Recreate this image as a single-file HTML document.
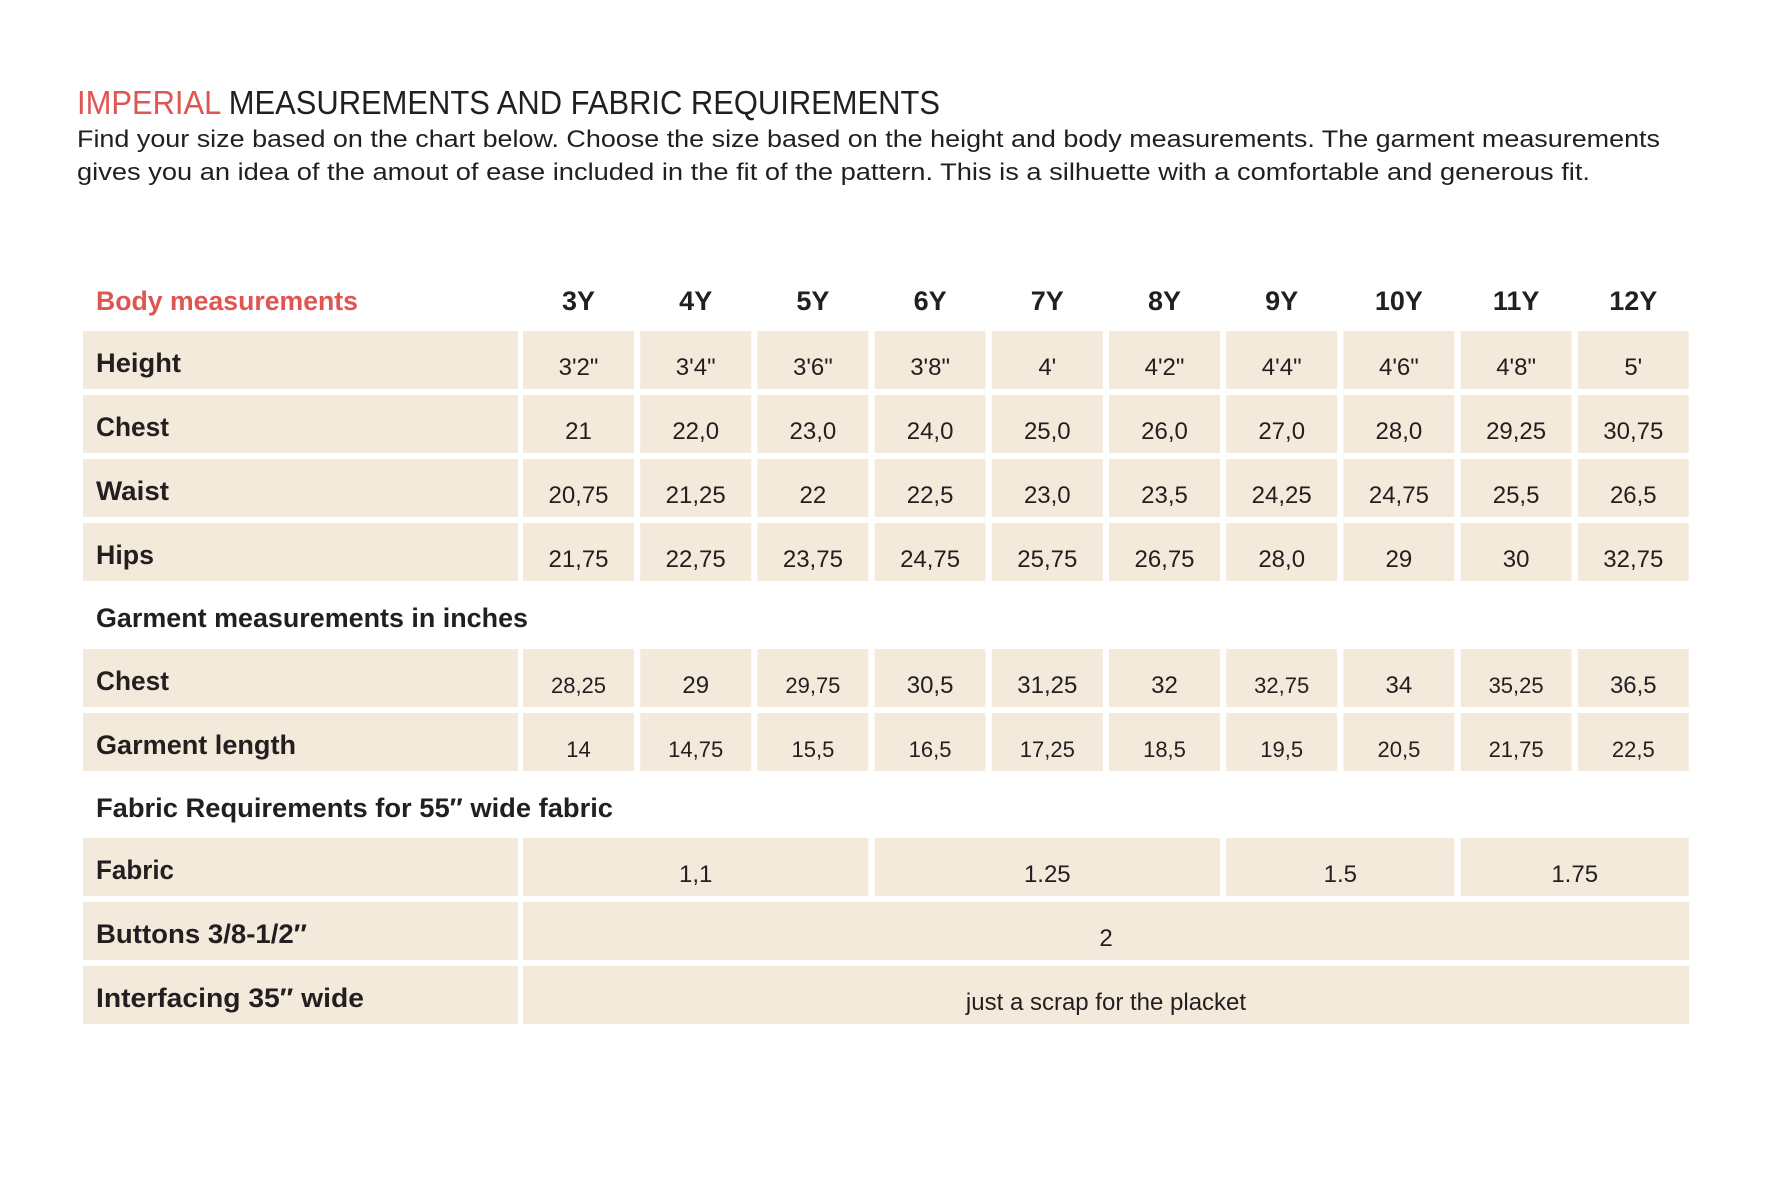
<!DOCTYPE html>
<html><head><meta charset="utf-8"><style>
html,body{margin:0;padding:0;background:#fff;}
svg{display:block;}
text{font-family:"Liberation Sans",sans-serif;}
</style></head><body>
<svg width="1778" height="1204" viewBox="0 0 1778 1204" xmlns="http://www.w3.org/2000/svg">
<rect width="1778" height="1204" fill="#fff"/>
<text x="77" y="114" font-size="33" fill="#231f20" textLength="863" lengthAdjust="spacingAndGlyphs"><tspan fill="#e05552">IMPERIAL</tspan> MEASUREMENTS AND FABRIC REQUIREMENTS</text>
<text x="77" y="147" font-size="24" fill="#231f20" textLength="1583" lengthAdjust="spacingAndGlyphs">Find your size based on the chart below. Choose the size based on the height and body measurements. The garment measurements</text>
<text x="77" y="180" font-size="24" fill="#231f20" textLength="1513" lengthAdjust="spacingAndGlyphs">gives you an idea of the amout of ease included in the fit of the pattern. This is a silhuette with a comfortable and generous fit.</text>

<g fill="#f3eadb">
<rect x="83" y="331" width="435" height="58"/><rect x="83" y="395" width="435" height="58"/>
<rect x="83" y="459" width="435" height="58"/><rect x="83" y="523" width="435" height="58"/>
<rect x="83" y="649" width="435" height="58"/><rect x="83" y="713" width="435" height="58"/>
<rect x="83" y="838" width="435" height="58"/><rect x="83" y="902" width="435" height="58"/>
<rect x="83" y="966" width="435" height="58"/>
</g>
<g fill="#f3eadb">
<rect x="523" y="838" width="345.4" height="58"/>
<rect x="874.6" y="838" width="345.4" height="58"/>
<rect x="1226.2" y="838" width="228.2" height="58"/>
<rect x="1460.6" y="838" width="228.2" height="58"/>
<rect x="523" y="902" width="1166" height="58"/>
<rect x="523" y="966" width="1166" height="58"/>
</g>

<g font-size="27" font-weight="bold" fill="#231f20">
<text x="96" y="310" fill="#e05552" textLength="262" lengthAdjust="spacingAndGlyphs">Body measurements</text>
<text x="96" y="372" textLength="85" lengthAdjust="spacingAndGlyphs">Height</text>
<text x="96" y="436" textLength="73" lengthAdjust="spacingAndGlyphs">Chest</text>
<text x="96" y="500" textLength="73" lengthAdjust="spacingAndGlyphs">Waist</text>
<text x="96" y="564" textLength="58" lengthAdjust="spacingAndGlyphs">Hips</text>
<text x="96" y="627" textLength="432" lengthAdjust="spacingAndGlyphs">Garment measurements in inches</text>
<text x="96" y="690" textLength="73" lengthAdjust="spacingAndGlyphs">Chest</text>
<text x="96" y="754" textLength="200" lengthAdjust="spacingAndGlyphs">Garment length</text>
<text x="96" y="817" textLength="517" lengthAdjust="spacingAndGlyphs">Fabric Requirements for  55″ wide fabric</text>
<text x="96" y="879" textLength="78" lengthAdjust="spacingAndGlyphs">Fabric</text>
<text x="96" y="943" textLength="211" lengthAdjust="spacingAndGlyphs">Buttons 3/8-1/2″</text>
<text x="96" y="1007" textLength="268" lengthAdjust="spacingAndGlyphs">Interfacing  35″ wide</text>
</g>

<g font-size="27" font-weight="bold" fill="#231f20" text-anchor="middle">
<text x="578.5" y="310">3Y</text><text x="695.7" y="310">4Y</text><text x="812.9" y="310">5Y</text>
<text x="930.1" y="310">6Y</text><text x="1047.3" y="310">7Y</text><text x="1164.5" y="310">8Y</text>
<text x="1281.7" y="310">9Y</text><text x="1398.9" y="310">10Y</text><text x="1516.1" y="310">11Y</text>
<text x="1633.3" y="310">12Y</text>
</g>

<g font-size="24" fill="#231f20" text-anchor="middle">
<text x="695.7" y="882">1,1</text>
<text x="1047.3" y="882">1.25</text>
<text x="1340.3" y="882">1.5</text>
<text x="1574.7" y="882">1.75</text>
<text x="1106" y="946">2</text>
<text x="1106" y="1010">just a scrap for the placket</text>
</g>

<g fill="#f3eadb">
<rect x="523" y="331" width="111" height="58"/><rect x="640.2" y="331" width="111" height="58"/><rect x="757.4" y="331" width="111" height="58"/><rect x="874.6" y="331" width="111" height="58"/><rect x="991.8" y="331" width="111" height="58"/><rect x="1109" y="331" width="111" height="58"/><rect x="1226.2" y="331" width="111" height="58"/><rect x="1343.4" y="331" width="111" height="58"/><rect x="1460.6" y="331" width="111" height="58"/><rect x="1577.8" y="331" width="111" height="58"/>
<rect x="523" y="395" width="111" height="58"/><rect x="640.2" y="395" width="111" height="58"/><rect x="757.4" y="395" width="111" height="58"/><rect x="874.6" y="395" width="111" height="58"/><rect x="991.8" y="395" width="111" height="58"/><rect x="1109" y="395" width="111" height="58"/><rect x="1226.2" y="395" width="111" height="58"/><rect x="1343.4" y="395" width="111" height="58"/><rect x="1460.6" y="395" width="111" height="58"/><rect x="1577.8" y="395" width="111" height="58"/>
<rect x="523" y="459" width="111" height="58"/><rect x="640.2" y="459" width="111" height="58"/><rect x="757.4" y="459" width="111" height="58"/><rect x="874.6" y="459" width="111" height="58"/><rect x="991.8" y="459" width="111" height="58"/><rect x="1109" y="459" width="111" height="58"/><rect x="1226.2" y="459" width="111" height="58"/><rect x="1343.4" y="459" width="111" height="58"/><rect x="1460.6" y="459" width="111" height="58"/><rect x="1577.8" y="459" width="111" height="58"/>
<rect x="523" y="523" width="111" height="58"/><rect x="640.2" y="523" width="111" height="58"/><rect x="757.4" y="523" width="111" height="58"/><rect x="874.6" y="523" width="111" height="58"/><rect x="991.8" y="523" width="111" height="58"/><rect x="1109" y="523" width="111" height="58"/><rect x="1226.2" y="523" width="111" height="58"/><rect x="1343.4" y="523" width="111" height="58"/><rect x="1460.6" y="523" width="111" height="58"/><rect x="1577.8" y="523" width="111" height="58"/>
<rect x="523" y="649" width="111" height="58"/><rect x="640.2" y="649" width="111" height="58"/><rect x="757.4" y="649" width="111" height="58"/><rect x="874.6" y="649" width="111" height="58"/><rect x="991.8" y="649" width="111" height="58"/><rect x="1109" y="649" width="111" height="58"/><rect x="1226.2" y="649" width="111" height="58"/><rect x="1343.4" y="649" width="111" height="58"/><rect x="1460.6" y="649" width="111" height="58"/><rect x="1577.8" y="649" width="111" height="58"/>
<rect x="523" y="713" width="111" height="58"/><rect x="640.2" y="713" width="111" height="58"/><rect x="757.4" y="713" width="111" height="58"/><rect x="874.6" y="713" width="111" height="58"/><rect x="991.8" y="713" width="111" height="58"/><rect x="1109" y="713" width="111" height="58"/><rect x="1226.2" y="713" width="111" height="58"/><rect x="1343.4" y="713" width="111" height="58"/><rect x="1460.6" y="713" width="111" height="58"/><rect x="1577.8" y="713" width="111" height="58"/>
</g>
<g font-size="24" fill="#231f20" text-anchor="middle">
<text x="578.5" y="375">3'2"</text><text x="695.7" y="375">3'4"</text><text x="812.9" y="375">3'6"</text><text x="930.1" y="375">3'8"</text><text x="1047.3" y="375">4'</text><text x="1164.5" y="375">4'2"</text><text x="1281.7" y="375">4'4"</text><text x="1398.9" y="375">4'6"</text><text x="1516.1" y="375">4'8"</text><text x="1633.3" y="375">5'</text>
<text x="578.5" y="439">21</text><text x="695.7" y="439">22,0</text><text x="812.9" y="439">23,0</text><text x="930.1" y="439">24,0</text><text x="1047.3" y="439">25,0</text><text x="1164.5" y="439">26,0</text><text x="1281.7" y="439">27,0</text><text x="1398.9" y="439">28,0</text><text x="1516.1" y="439">29,25</text><text x="1633.3" y="439">30,75</text>
<text x="578.5" y="503">20,75</text><text x="695.7" y="503">21,25</text><text x="812.9" y="503">22</text><text x="930.1" y="503">22,5</text><text x="1047.3" y="503">23,0</text><text x="1164.5" y="503">23,5</text><text x="1281.7" y="503">24,25</text><text x="1398.9" y="503">24,75</text><text x="1516.1" y="503">25,5</text><text x="1633.3" y="503">26,5</text>
<text x="578.5" y="567">21,75</text><text x="695.7" y="567">22,75</text><text x="812.9" y="567">23,75</text><text x="930.1" y="567">24,75</text><text x="1047.3" y="567">25,75</text><text x="1164.5" y="567">26,75</text><text x="1281.7" y="567">28,0</text><text x="1398.9" y="567">29</text><text x="1516.1" y="567">30</text><text x="1633.3" y="567">32,75</text>
<text x="578.5" y="693" font-size="22">28,25</text><text x="695.7" y="693">29</text><text x="812.9" y="693" font-size="22">29,75</text><text x="930.1" y="693">30,5</text><text x="1047.3" y="693">31,25</text><text x="1164.5" y="693">32</text><text x="1281.7" y="693" font-size="22">32,75</text><text x="1398.9" y="693">34</text><text x="1516.1" y="693" font-size="22">35,25</text><text x="1633.3" y="693">36,5</text>
<text x="578.5" y="757" font-size="22">14</text><text x="695.7" y="757" font-size="22">14,75</text><text x="812.9" y="757" font-size="22">15,5</text><text x="930.1" y="757" font-size="22">16,5</text><text x="1047.3" y="757" font-size="22">17,25</text><text x="1164.5" y="757" font-size="22">18,5</text><text x="1281.7" y="757" font-size="22">19,5</text><text x="1398.9" y="757" font-size="22">20,5</text><text x="1516.1" y="757" font-size="22">21,75</text><text x="1633.3" y="757" font-size="22">22,5</text>
</g>
</svg>
</body></html>
